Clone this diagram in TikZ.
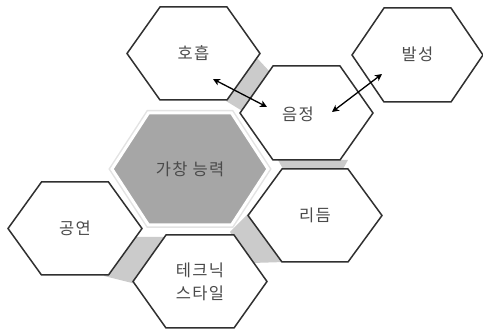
\documentclass[tikz,border=0pt]{standalone}
\usepackage{fontspec}
\setmainfont{Noto Sans CJK KR}[LetterSpace=8]
\usetikzlibrary{arrows.meta}
\definecolor{hexedge}{HTML}{303030}
\definecolor{bandgray}{HTML}{CBCBCB}
\definecolor{coregray}{HTML}{A6A6A6}
\definecolor{labelgray}{HTML}{4A4A4A}
% flat-topped hexagon: centre (#1,#2), half width #3, half top edge #4, half height #5
\newcommand\hexpath[5]{(#1-#3,#2) -- (#1-#4,#2-#5) -- (#1+#4,#2-#5) -- (#1+#3,#2) -- (#1+#4,#2+#5) -- (#1-#4,#2+#5) -- cycle}
\tikzset{
  cell/.style={draw=hexedge, fill=white, line width=1.5pt, line join=miter},
  band/.style={fill=bandgray, draw=none},
  hexlabel/.style={text=labelgray, font=\fontsize{16.5}{23}\selectfont, align=center, inner sep=0pt},
  link/.style={{Stealth[length=7pt,width=7pt,inset=2pt]}-{Stealth[length=7pt,width=7pt,inset=2pt]}, line width=1.3pt, black}
}
\begin{document}
\begin{tikzpicture}[x=1pt,y=-1pt]
\useasboundingbox (0,0) rectangle (483,331);

% grey bands linking neighbouring cells
\fill[band] (257,58) -- (270,72) -- (244,112) -- (226,101) -- cycle;
\fill[band] (278,160) -- (348,160) -- (343,169) -- (283,169) -- cycle;
\fill[band] (230,232) -- (250,212) -- (285,262) -- (252,263) -- cycle;
\fill[band] (130,237) -- (170,237) -- (140,285) -- (104,276) -- cycle;

% outer cells
\draw[cell] \hexpath{193.5}{53.5}{66.5}{33.5}{46.5};
\draw[cell] \hexpath{306.5}{113}{66.5}{33.5}{47};
\draw[cell] \hexpath{417.5}{55}{65.5}{33.5}{47};
\draw[cell] \hexpath{75}{228.5}{67}{33.5}{46.5};
\draw[cell] \hexpath{200}{281.5}{67}{34}{46.5};
\draw[cell] \hexpath{315}{215.5}{67}{33}{46.5};

% central cell with a soft light rim
\draw[draw=gray!22, line width=6pt, line join=miter] \hexpath{190}{169}{78}{41.5}{56};
\draw[fill=coregray, draw=white, line width=3pt, line join=miter] \hexpath{190}{169}{78}{41.5}{56};

% labels
\node[hexlabel] (hoheup) at (193.5,53) {호흡};
\node[hexlabel] (eumjeong) at (298,114) {음정};
\node[hexlabel] (balseong) at (417.5,54) {발성};
\node[hexlabel] (gachang) at (190,169) {가창 능력};
\node[hexlabel] (gongyeon) at (75,228) {공연};
\node[hexlabel] (technic) at (200,281.5) {테크닉\\스타일};
\node[hexlabel] (rideum) at (315,215.5) {리듬};

% arrow ends
\coordinate (p1) at (213,79);
\coordinate (q1) at (267,107);
\coordinate (p2) at (332,112);
\coordinate (q2) at (382,74);
\draw[link] (p1) -- (q1);
\draw[link] (p2) -- (q2);
\end{tikzpicture}
\end{document}
